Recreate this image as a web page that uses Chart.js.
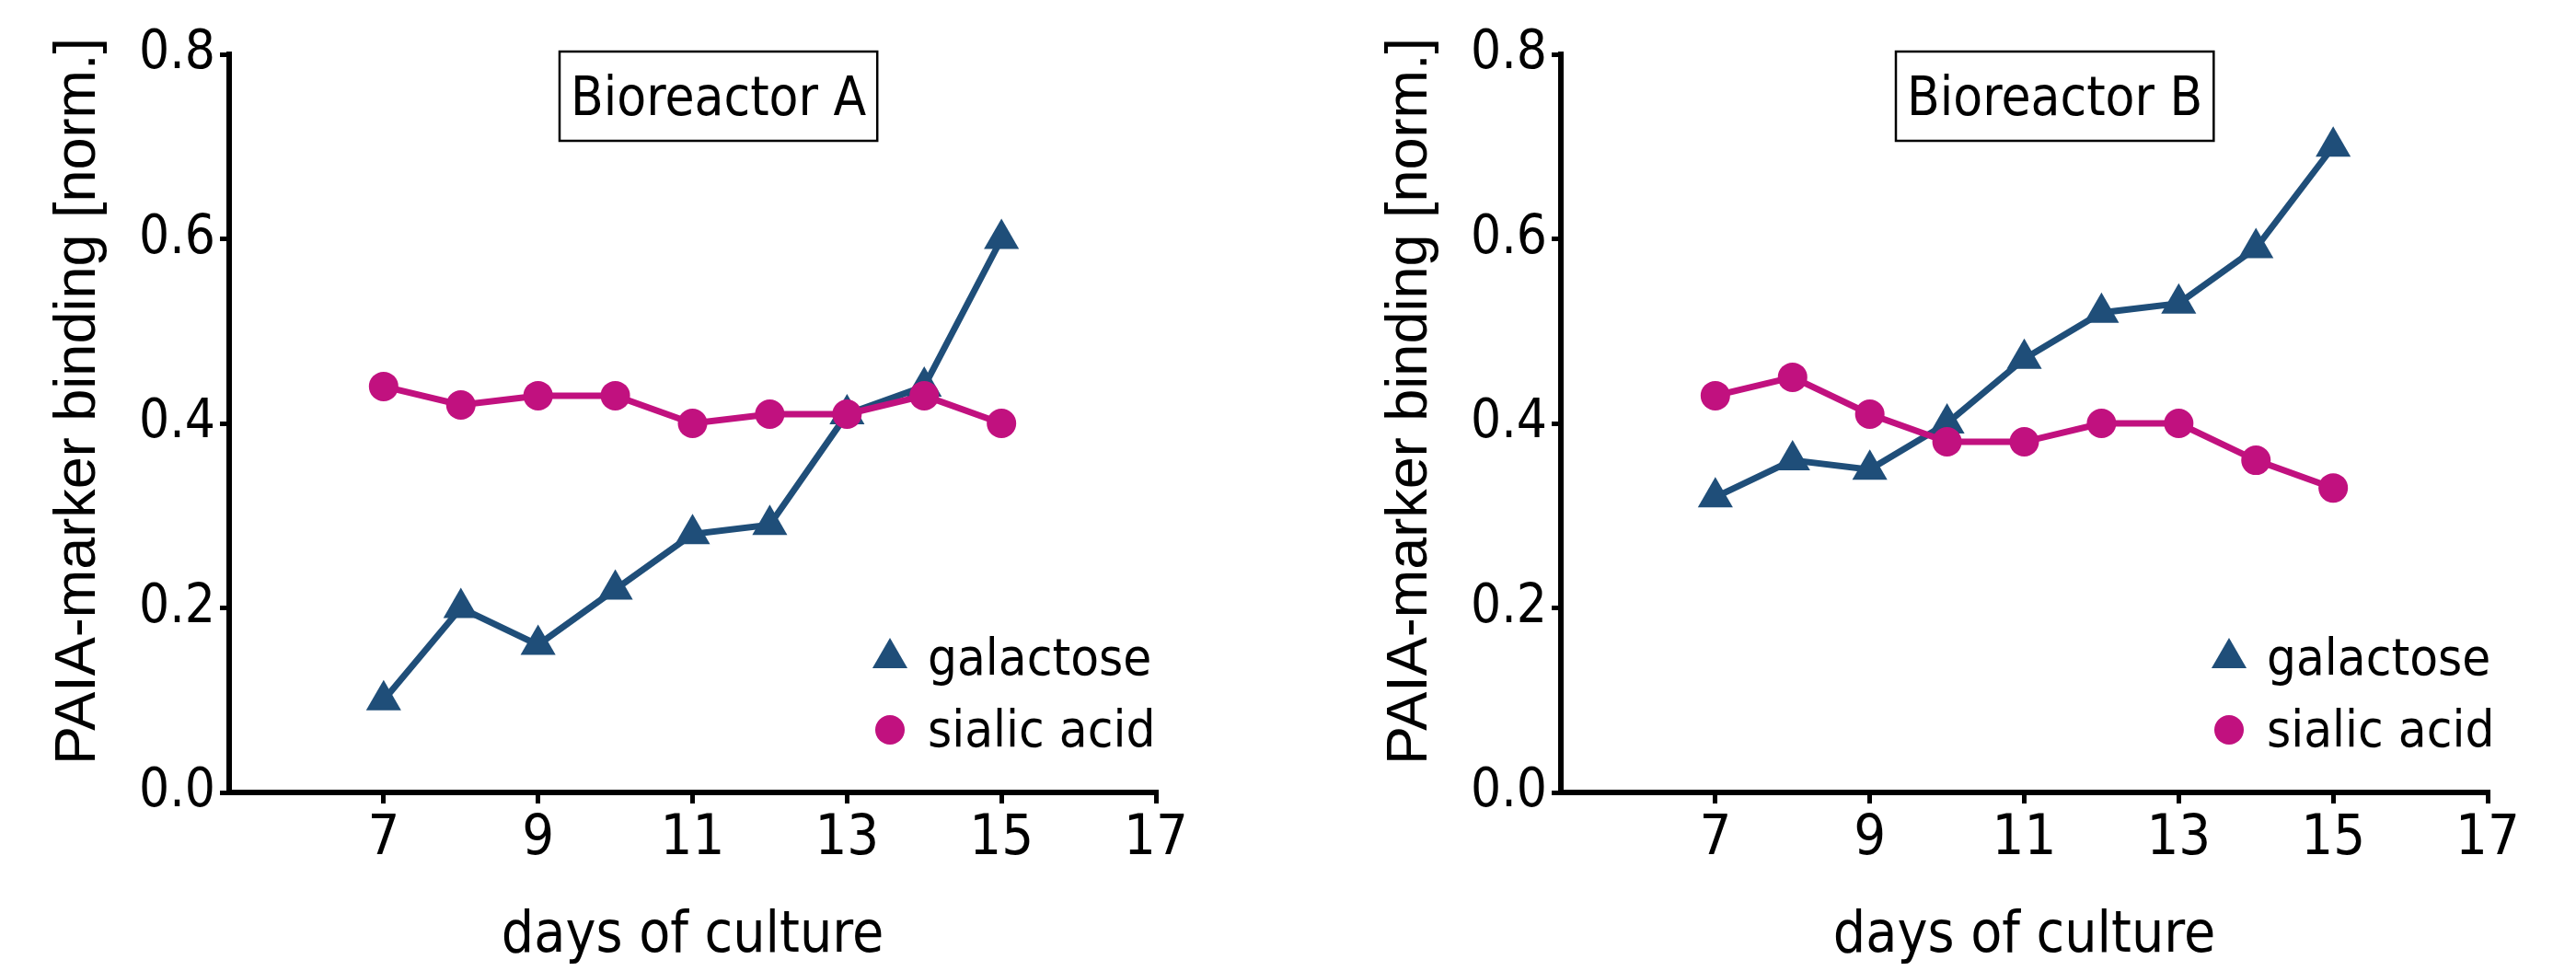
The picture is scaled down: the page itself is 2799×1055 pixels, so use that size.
<!DOCTYPE html>
<html><head><meta charset="utf-8">
<script src="https://cdn.jsdelivr.net/npm/chart.js@4.4.1/dist/chart.umd.min.js"></script>
<style>
html,body{margin:0;padding:0;background:#fff;overflow:hidden;}
#wrap{position:relative;width:2799px;height:1055px;background:#fff;}
.c{position:absolute;top:0;}
</style></head><body>
<div id="wrap">
<canvas id="cA" class="c" width="1400" height="1055" style="left:0"></canvas>
<canvas id="cB" class="c" width="1399" height="1055" style="left:1400px"></canvas>
</div>
<script>
const days = [7, 8, 9, 10, 11, 12, 13, 14, 15];
const galactoseA = [0.10, 0.20, 0.16, 0.22, 0.28, 0.29, 0.41, 0.44, 0.60];
const sialicA    = [0.44, 0.42, 0.43, 0.43, 0.40, 0.41, 0.41, 0.43, 0.40];
const galactoseB = [0.32, 0.36, 0.35, 0.40, 0.47, 0.52, 0.53, 0.59, 0.70];
const sialicB    = [0.43, 0.45, 0.41, 0.38, 0.38, 0.40, 0.40, 0.36, 0.33];
const xTicks = [7, 9, 11, 13, 15, 17];
const yTicks = [0.0, 0.2, 0.4, 0.6, 0.8];
const seriesNames = ['galactose', 'sialic acid'];
const panelTitles = ['Bioreactor A', 'Bioreactor B'];
const xTitle = 'days of culture';
const yTitle = 'PAIA-marker binding [norm.]';

const BLUE = '#1f4e79', MAG = '#c1117f';
const COND = "'DejaVu Sans Condensed', 'DejaVu Sans', sans-serif";
const REG = "'Liberation Sans', Arial, sans-serif";

function drawMarker(ctx, style, r, x, y, color) {
  ctx.fillStyle = color;
  ctx.beginPath();
  if (style === 'triangle') {
    let rad = 0;
    ctx.moveTo(x + Math.sin(rad) * r, y - Math.cos(rad) * r);
    rad += 2 * Math.PI / 3;
    ctx.lineTo(x + Math.sin(rad) * r, y - Math.cos(rad) * r);
    rad += 2 * Math.PI / 3;
    ctx.lineTo(x + Math.sin(rad) * r, y - Math.cos(rad) * r);
    ctx.closePath();
  } else {
    ctx.arc(x, y, r, 0, Math.PI * 2);
  }
  ctx.fill();
}

const panelDeco = {
  id: 'panelDeco',
  afterDraw(chart, args, opts) {
    const ctx = chart.ctx, ca = chart.chartArea;
    ctx.save();
    // y axis title (rotated), placed like the reference
    ctx.save();
    ctx.font = `63px ${REG}`;
    ctx.fillStyle = '#000';
    ctx.textAlign = 'center'; ctx.textBaseline = 'alphabetic';
    ctx.translate(ca.left - 146, 436);
    ctx.rotate(-Math.PI / 2);
    ctx.fillText(yTitle, 0, 0);
    ctx.restore();
    // boxed panel title
    ctx.font = `58px ${COND}`;
    const tw = ctx.measureText(opts.title).width;
    const bx = ca.left + opts.boxLeft, by = ca.top - 3, bw = tw + 24, bh = 97;
    ctx.lineWidth = 2.5; ctx.strokeStyle = '#000';
    ctx.strokeRect(bx, by, bw, bh);
    ctx.fillStyle = '#000'; ctx.textAlign = 'left'; ctx.textBaseline = 'alphabetic';
    ctx.fillText(opts.title, bx + 12, by + 69);
    // legend
    ctx.font = `56px ${COND}`;
    seriesNames.forEach((name, row) => {
      const ds = chart.data.datasets.find(d => d.label === name);
      const cy = ca.top + 656 + row * 78;
      drawMarker(ctx, ds.pointStyle, ds.pointStyle === 'triangle' ? 22 : 16, ca.left + opts.legLeft, cy, ds.borderColor);
      ctx.fillStyle = '#000';
      ctx.fillText(name, ca.left + opts.legLeft + 41, cy + 18);
    });
    ctx.restore();
  }
};

function makeChart(id, title, gal, sia, padLeft, padRight, boxLeft, legLeft) {
  const axisGrid = (len) => ({drawOnChartArea: false, drawTicks: true, tickLength: len, color: '#000', lineWidth: 5});
  return new Chart(document.getElementById(id), {
    type: 'line',
    data: {
      datasets: [
        { label: seriesNames[1], data: days.map((d, i) => ({x: d, y: sia[i]})),
          borderColor: MAG, backgroundColor: MAG, pointStyle: 'circle', pointRadius: 16,
          pointBorderWidth: 0, borderWidth: 7, order: 0 },
        { label: seriesNames[0], data: days.map((d, i) => ({x: d, y: gal[i]})),
          borderColor: BLUE, backgroundColor: BLUE, pointStyle: 'triangle', pointRadius: 22,
          pointBorderWidth: 0, borderWidth: 7, order: 1 }
      ]
    },
    options: {
      responsive: false, animation: false, devicePixelRatio: 1,
      layout: {padding: {left: padLeft, right: padRight, top: 59, bottom: 0}},
      plugins: {legend: {display: false}, tooltip: {enabled: false},
                panelDeco: {title, boxLeft, legLeft}},
      scales: {
        x: {
          type: 'linear', min: 5, max: 17,
          afterBuildTicks: s => { s.ticks = xTicks.map(v => ({value: v})); },
          afterFit: s => { s.height = 194; },
          grid: axisGrid(12),
          border: {display: true, color: '#000', width: 6},
          ticks: {color: '#000', padding: 3, font: {family: COND, size: 61}, callback: v => String(v)},
          title: {display: true, text: xTitle, color: '#000', font: {family: COND, size: 62},
                  padding: {top: 0, bottom: 0}}
        },
        y: {
          type: 'linear', min: 0, max: 0.8,
          afterBuildTicks: s => { s.ticks = yTicks.map(v => ({value: v})); },
          afterFit: s => { s.width = 249; },
          grid: axisGrid(10),
          border: {display: true, color: '#000', width: 6},
          ticks: {color: '#000', padding: 5, font: {family: COND, size: 58}, callback: v => v.toFixed(1)},
          title: {display: false, text: yTitle}
        }
      }
    },
    plugins: [panelDeco]
  });
}

makeChart('cA', panelTitles[0], galactoseA, sialicA, 0, 144, 359, 718);
makeChart('cB', panelTitles[1], galactoseB, sialicB, 47, 96, 364, 726);
</script>
</body></html>
